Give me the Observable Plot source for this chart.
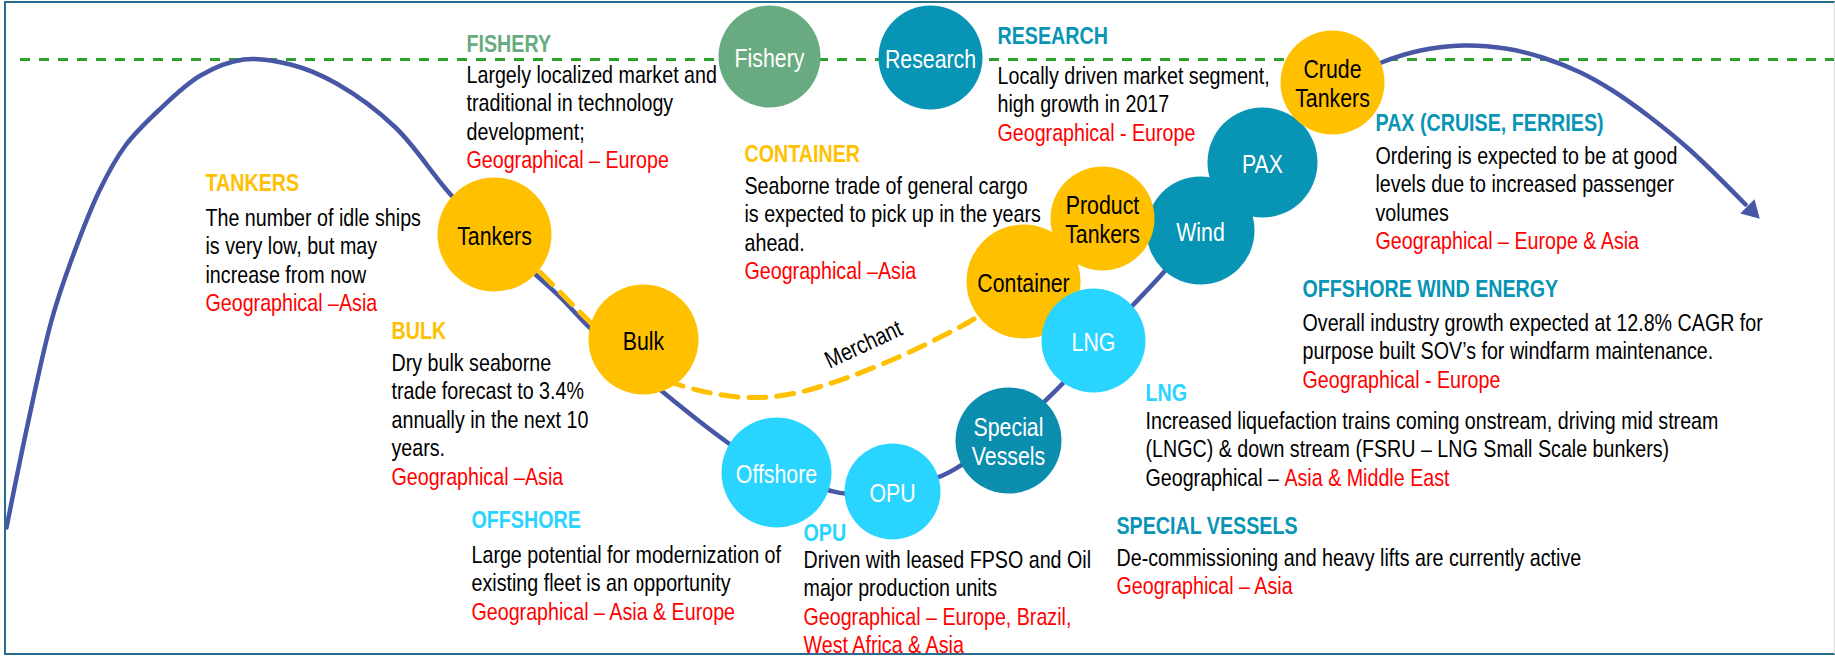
<!DOCTYPE html>
<html>
<head>
<meta charset="utf-8">
<script src="https://cdn.jsdelivr.net/npm/d3@7"></script>
<script src="https://cdn.jsdelivr.net/npm/@observablehq/plot@0.6"></script>
<style>
html, body { margin: 0; padding: 0; background: #fff; }
#wrap { position: relative; width: 1835px; height: 656px; overflow: hidden; }
#wrap svg { position: absolute; left: 0; top: 0; }
#border { position: absolute; left: 4px; top: 1px; width: 1831px; height: 654px; box-sizing: border-box;
  border-left: 2px solid #2A6C8E; border-top: 2px solid #2A6C8E; border-bottom: 2px solid #2A6C8E;
  border-right: 1px solid #dcdcdc; pointer-events: none; }
</style>
</head>
<body>
<div id="wrap"><div id="border"></div></div>
<script>
// ---------- data ----------
// segment bubbles along the cycle (listed in drawing order)
const segNames  = ["Fishery","Research","PAX","Crude\nTankers","Product\nTankers","Wind","Container","LNG","Tankers","Bulk","Offshore","OPU","Special\nVessels"];
const segGroups = ["fishery","specialized","specialized","merchant","merchant","specialized","merchant","offshore","merchant","merchant","offshore","offshore","special"];
const segStage  = [769, 930, 1262, 1332, 1102, 1200, 1023, 1093, 494, 643, 776, 892, 1008];
const segLevel  = [56, 57, 162, 82, 218, 230, 281, 340, 234, 339, 472, 491, 440];
const segSize   = [51, 52, 55, 52, 52, 54, 57, 52, 57, 55, 55, 48, 53];

// market cycle curve
const cycleStage = [6,28,51,70,99,125,158,200,243,290,336,395,451,494,534,560,590,627,663,727,776,829,845,892,942,962,1008,1043,1064,1097,1134,1163,1200,1232,1262,1300,1340,1381,1420,1463,1505,1542,1580,1612,1650,1690,1745];
const cycleLevel = [527,420,320,262,190,145,110,75,59,64,83,127,195,236,273,297,328,361,392,442,474,490,493,490,475,464,436,402,381,342,303,272,228,193,160,115,82,62,50,45,48,57,72,90,117,150,204];
const arrowTip = [{stage: 1751, level: 210}];

// merchant sub-cycle (dashed)
const merchantStage = [540,565,590,640,691,747,793,847,908,971,998];
const merchantLevel = [272,297,322,368,388,397,393,377,352,320,302];
const merchantLabel = [{text: "Merchant", stage: 863, level: 344, angle: -25}];

// reference level (dashed green)
const peakLine = [{level: 59, from: 20, to: 1835}];

// annotations
const noteTitles = ["FISHERY","RESEARCH","TANKERS","CONTAINER","PAX (CRUISE, FERRIES)","OFFSHORE WIND ENERGY","BULK","LNG","OFFSHORE","OPU","SPECIAL VESSELS"];
const noteGroups = ["fishery","specialized","merchant","merchant","specialized","specialized","merchant","offshore","offshore","offshore","specialized"];
const noteStage  = [466, 997, 205, 744, 1375, 1302, 391, 1145, 471, 803, 1116];
const noteHeadLevel = [51, 43, 190, 161, 130, 296, 338, 400, 527, 540, 533];
const noteBodyLevel = [82, 83, 225, 193, 163, 330, 370, 428, 562, 567, 565];
const noteBody = [
  ["Largely localized market and","traditional in technology","development;"],
  ["Locally driven market segment,","high growth in 2017"],
  ["The number of idle ships","is very low, but may","increase from now"],
  ["Seaborne trade of general cargo","is expected to pick up in the years","ahead."],
  ["Ordering is expected to be at good","levels due to increased passenger","volumes"],
  ["Overall industry growth expected at 12.8% CAGR for","purpose built SOV’s for windfarm maintenance."],
  ["Dry bulk seaborne","trade forecast to 3.4%","annually in the next 10","years."],
  ["Increased liquefaction trains coming onstream, driving mid stream","(LNGC) & down stream (FSRU – LNG Small Scale bunkers)"],
  ["Large potential for modernization of","existing fleet is an opportunity"],
  ["Driven with leased FPSO and Oil","major production units"],
  ["De-commissioning and heavy lifts are currently active"]
];
const noteGeoPrefix = ["","","","","","","","Geographical – ","","",""];
const noteGeo = [
  ["Geographical – Europe"],
  ["Geographical - Europe"],
  ["Geographical –Asia"],
  ["Geographical –Asia"],
  ["Geographical – Europe & Asia"],
  ["Geographical - Europe"],
  ["Geographical –Asia"],
  ["Asia & Middle East"],
  ["Geographical – Asia & Europe"],
  ["Geographical – Europe, Brazil,","West Africa & Asia"],
  ["Geographical – Asia"]
];

// ---------- build tables ----------
const W = 1835, H = 656, LINE = 28.5, NARROW = 0.82;
const FONT = "'Liberation Sans', Arial, sans-serif";
const segments = segNames.map((name, i) => ({name, group: segGroups[i], stage: segStage[i], level: segLevel[i], size: segSize[i]}));
const cycle = cycleStage.map((s, i) => ({stage: s, level: cycleLevel[i]}));
const merchant = merchantStage.map((s, i) => ({stage: s, level: merchantLevel[i]}));

const heads = [], bodies = [], geos = [], mixed = [];
noteTitles.forEach((t, i) => {
  heads.push({text: t, group: noteGroups[i], stage: noteStage[i], level: noteHeadLevel[i]});
  noteBody[i].forEach((s, j) => bodies.push({text: s, stage: noteStage[i], level: noteBodyLevel[i] + j * LINE}));
  noteGeo[i].forEach((s, j) => {
    const pre = j === 0 ? noteGeoPrefix[i] : "";
    if (pre) mixed.push({full: pre + s, pre, rest: s});
    geos.push({text: pre + s, stage: noteStage[i], level: noteBodyLevel[i] + (noteBody[i].length + j) * LINE});
  });
});

const plot = Plot.plot({
  width: W, height: H, margin: 0,
  x: {domain: [0, W], range: [0, W], axis: null},
  y: {domain: [0, H], range: [0, H], axis: null},
  r: {type: "identity"},
  color: {domain: ["merchant","offshore","specialized","special","fishery"],
          range: ["#FFC000","#29D4FF","#0894B5","#0B8DAD","#69AB80"]},
  style: {fontFamily: FONT, background: "transparent", overflow: "visible"},
  marks: [
    Plot.ruleY(peakLine, {y: "level", x1: "from", x2: "to", stroke: "#2CA02C", strokeWidth: 3, strokeDasharray: "10,9"}),
    Plot.line(cycle, {x: "stage", y: "level", curve: "catmull-rom", stroke: "#4757A6", strokeWidth: 4.5}),
    Plot.dot(arrowTip, {x: "stage", y: "level", symbol: "triangle", r: 7.5, fill: "#4757A6", rotate: 135}),
    Plot.line(merchant, {x: "stage", y: "level", curve: "catmull-rom", stroke: "#FFC000", strokeWidth: 5, strokeDasharray: "17,11"}),
    Plot.text(merchantLabel, {x: "stage", y: "level", text: "text", rotate: "angle", fontSize: 24, fill: "#000"}),
    Plot.dot(segments, {x: "stage", y: "level", r: "size", fill: "group"}),
    Plot.text(segments.filter(d => d.group === "merchant"), {x: "stage", y: "level", text: "name", fontSize: 26, lineHeight: 1.1, dy: 1, fill: "#000"}),
    Plot.text(segments.filter(d => d.group !== "merchant"), {x: "stage", y: "level", text: "name", fontSize: 26, lineHeight: 1.1, dy: 1, fill: "#fff"}),
    Plot.text(heads, {x: "stage", y: "level", text: "text", fill: "group", fontSize: 24, fontWeight: "bold", textAnchor: "start", lineAnchor: "bottom"}),
    Plot.text(bodies, {x: "stage", y: "level", text: "text", fill: "#000", fontSize: 24, textAnchor: "start", lineAnchor: "bottom"}),
    Plot.text(geos, {x: "stage", y: "level", text: "text", fill: "#FF0000", fontSize: 24, textAnchor: "start", lineAnchor: "bottom"})
  ]
});

// split mixed-colour lines into black prefix + red remainder
d3.select(plot).selectAll("text").each(function () {
  const m = mixed.find(d => d.full === this.textContent);
  if (!m) return;
  const el = d3.select(this);
  el.text("");
  el.append("tspan").attr("fill", "#000").text(m.pre);
  el.append("tspan").text(m.rest);
});
// narrow (condensed) face: compress each text horizontally about its anchor
d3.select(plot).selectAll("text").each(function () {
  const t = this.getAttribute("transform") || "";
  this.setAttribute("transform", `${t} scale(${NARROW},1)`);
});

document.getElementById("wrap").insertBefore(plot, document.getElementById("border"));
</script>
</body>
</html>
